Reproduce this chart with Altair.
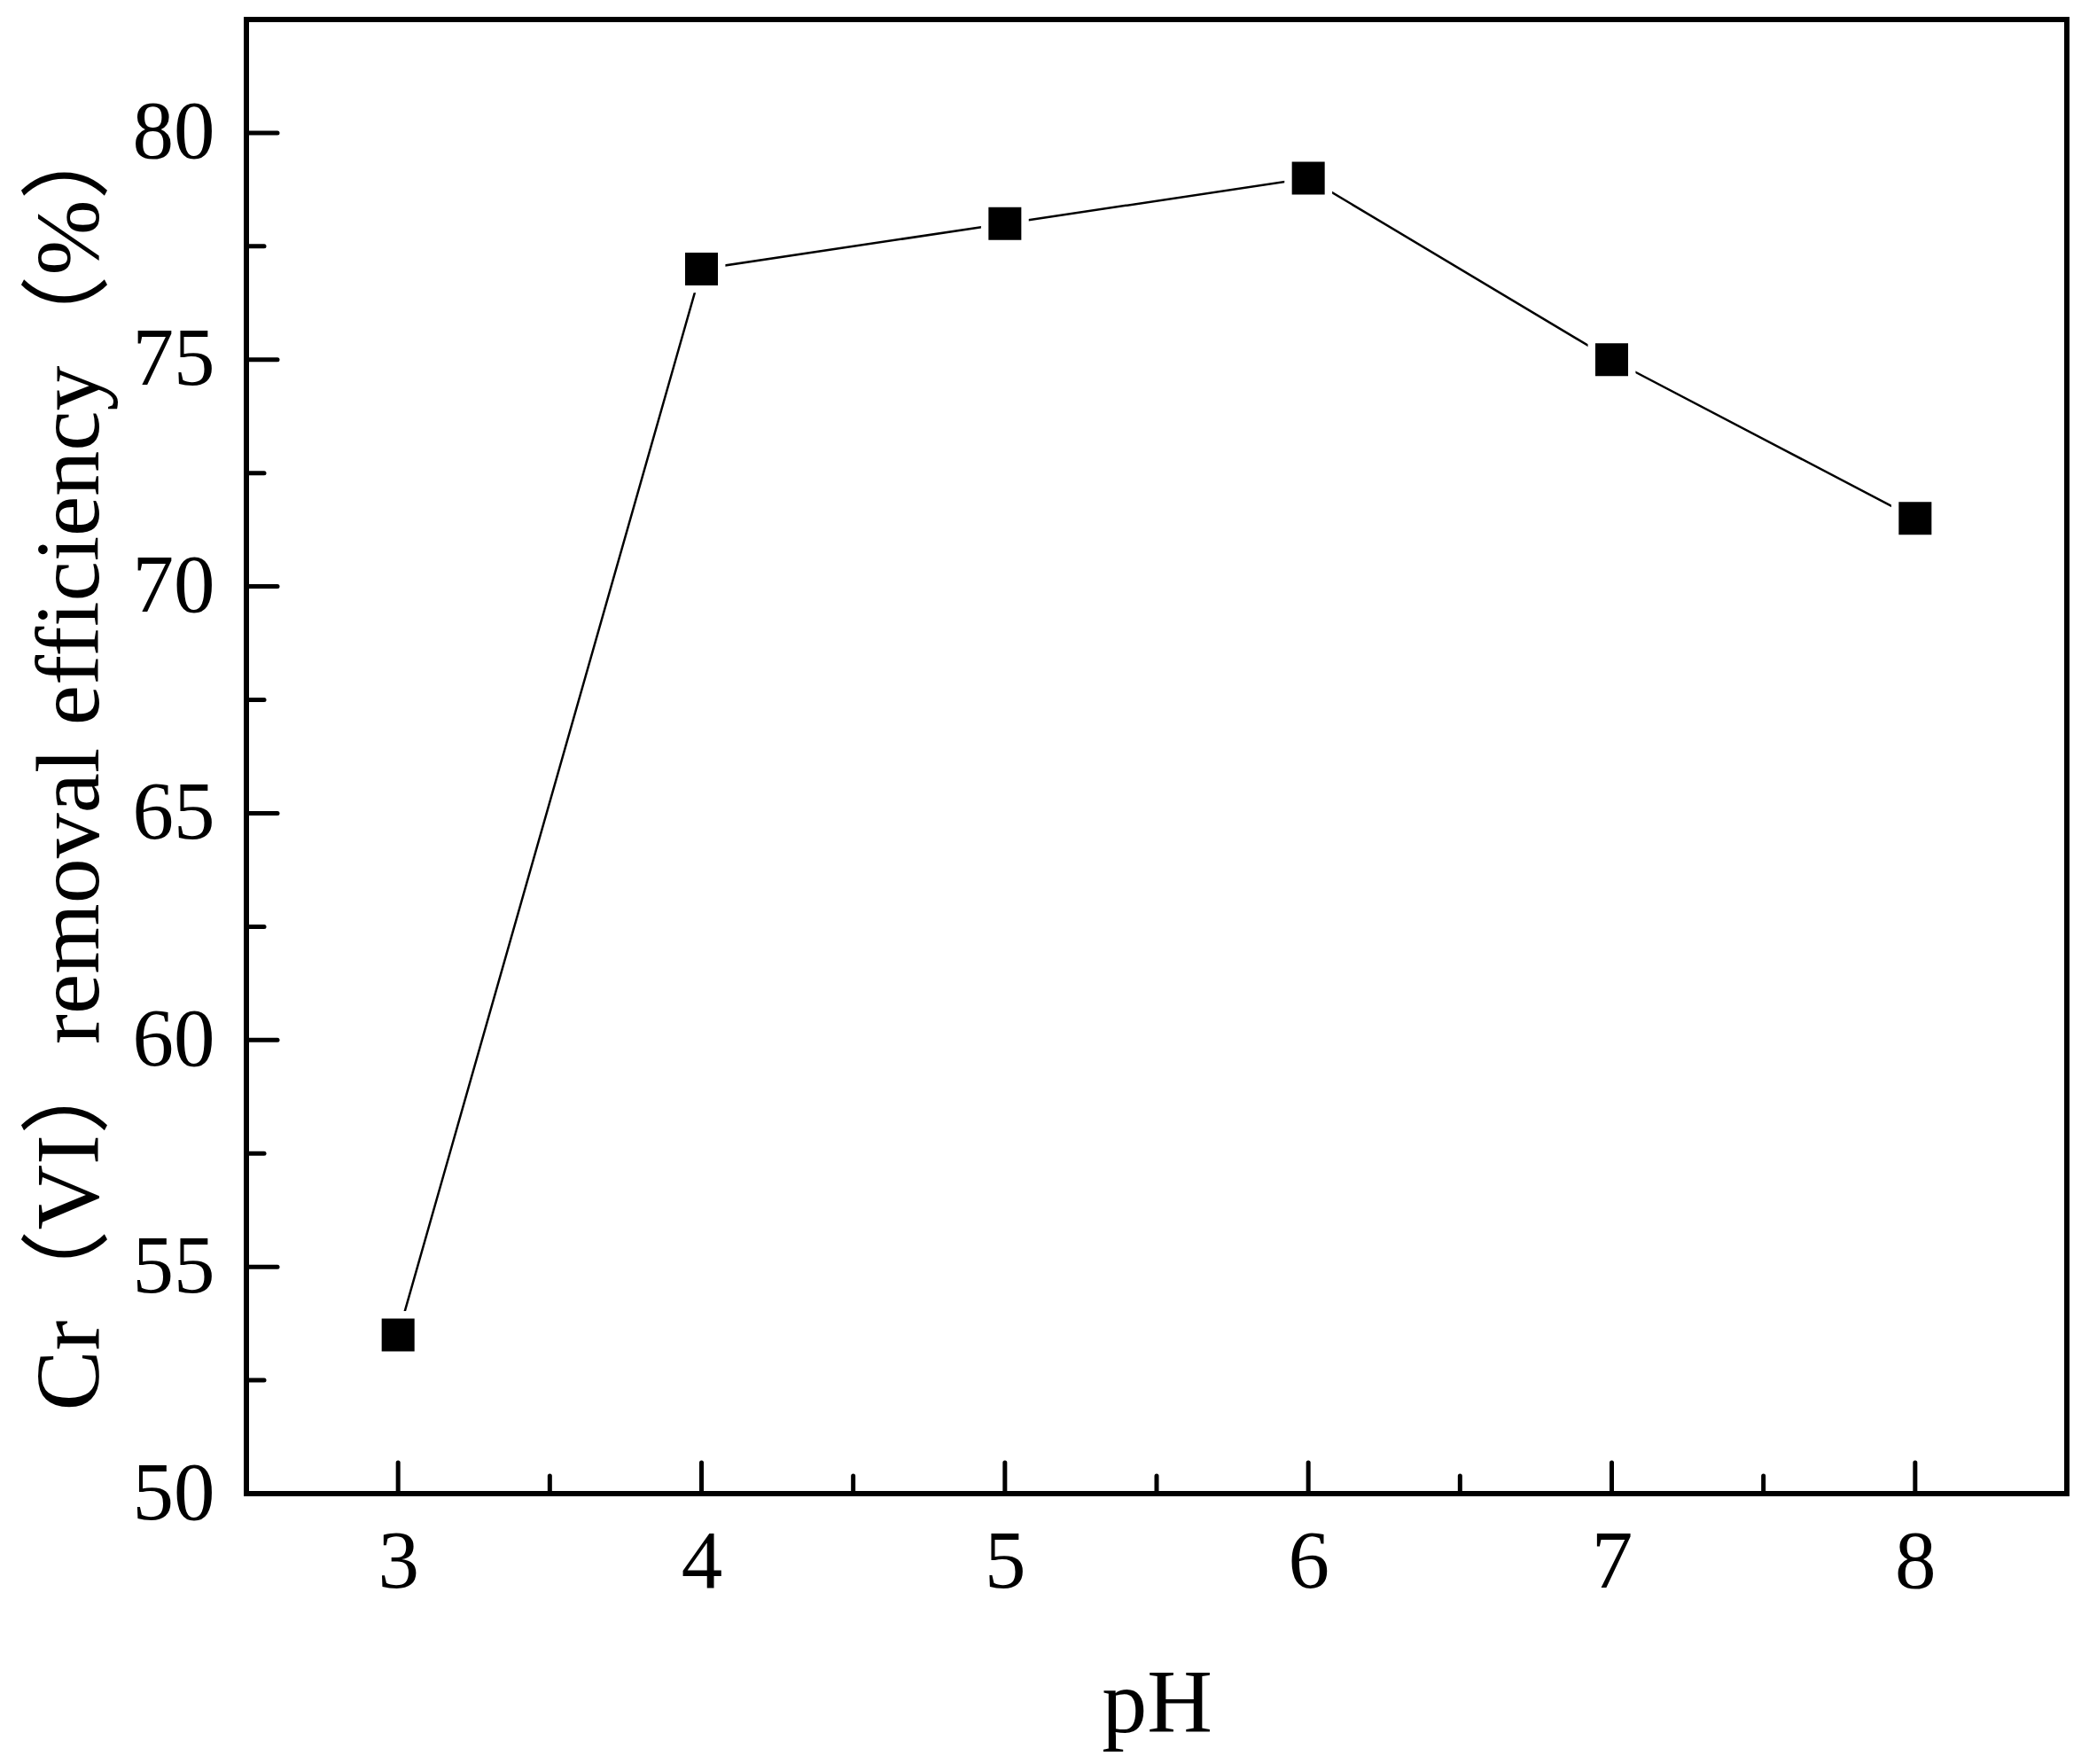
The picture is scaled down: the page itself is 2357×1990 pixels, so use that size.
import pandas as pd
import altair as alt

# data
ph = [3, 4, 5, 6, 7, 8]
removal = [53.5, 77.0, 78.0, 79.0, 75.0, 71.5]

x_major = [3, 4, 5, 6, 7, 8]
x_minor = [3.5, 4.5, 5.5, 6.5, 7.5]
y_major = [50, 55, 60, 65, 70, 75, 80]
y_minor = [52.5, 57.5, 62.5, 67.5, 72.5, 77.5]

W = 2054
H = 1663
FONT = "'Liberation Serif', 'Times New Roman', 'Noto Sans CJK SC', serif"

df = pd.DataFrame({'ph': ph, 'removal': removal})

xs = alt.Scale(domain=[2.5, 8.5], nice=False, zero=False)
ys = alt.Scale(domain=[50, 82.5], nice=False, zero=False)

x_axis = alt.Axis(values=x_major, title='pH', tickSize=0, ticks=False, domain=False,
                  grid=False, labelPadding=32, titleY=268, titleBaseline='alphabetic')
y_axis = alt.Axis(values=y_major, title='Cr（VI）removal efficiency（%）', tickSize=0,
                  ticks=False, domain=False, grid=False, labelPadding=36,
                  titleX=-168, titleY=835, titleBaseline='alphabetic', titleAngle=-90)

base = alt.Chart(df).encode(
    x=alt.X('ph:Q', scale=xs, axis=x_axis),
    y=alt.Y('removal:Q', scale=ys, axis=y_axis)
)

line = base.mark_line(color='black', strokeWidth=2.5)
gap = base.mark_point(shape='square', filled=True, color='white', size=2900, opacity=1)
pts = base.mark_point(shape='square', filled=True, color='black', size=1370, opacity=1)

# inward ticks
def yticks(vals, length):
    return alt.Chart(pd.DataFrame({'v': vals})).mark_rule(
        color='black', strokeWidth=5, strokeCap='round').encode(
        y=alt.Y('v:Q', scale=ys, axis=y_axis),
        x=alt.value(0), x2=alt.value(length))

def xticks(vals, length):
    return alt.Chart(pd.DataFrame({'v': vals})).mark_rule(
        color='black', strokeWidth=5, strokeCap='round').encode(
        x=alt.X('v:Q', scale=xs, axis=x_axis),
        y=alt.value(H), y2=alt.value(H - length))

chart = alt.layer(
    line, gap, pts,
    yticks(y_major, 35), yticks(y_minor, 20),
    xticks(x_major, 35), xticks(x_minor, 20)
).properties(
    width=W, height=H,
    background='white',
    autosize=alt.AutoSizeParams(type='none'),
    padding={'left': 270, 'top': 14, 'right': 17, 'bottom': 297}
).configure_view(
    stroke='black', strokeWidth=6
).configure_axis(
    labelFont=FONT, titleFont=FONT, labelFontSize=93, titleFontSize=102,
    labelColor='black', titleColor='black', titleFontWeight='normal'
)

chart.save("out.html", embed_options={"renderer": "svg", "actions": False})
